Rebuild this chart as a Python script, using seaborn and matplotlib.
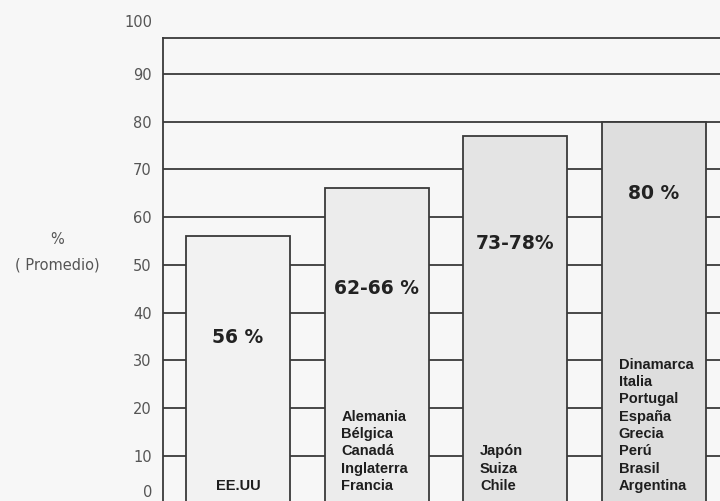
import matplotlib
matplotlib.use("Agg")
import matplotlib.pyplot as plt
import seaborn as sns
import pandas as pd

# Data
groups = ["EE.UU", "G2", "G3", "G4"]
values = [56, 66, 77, 80]
pct_labels = ["56 %", "62-66 %", "73-78%", "80 %"]
countries = [
    ["EE.UU"],
    ["Alemania", "Bélgica", "Canadá", "Inglaterra", "Francia"],
    ["Japón", "Suiza", "Chile"],
    ["Dinamarca", "Italia", "Portugal", "España", "Grecia", "Perú", "Brasil", "Argentina"],
]
pct_label_y = [34.7, 45.1, 54.5, 65.0]
y_ticks = [10, 20, 30, 40, 50, 60, 70, 80, 90]

bar_colors = ["#f2f2f2", "#ececec", "#e4e4e4", "#dedede"]
line_color = "#3a3a3a"
bg = "#f7f7f7"

df = pd.DataFrame({"grupo": groups, "valor": values})

sns.set_style("white")
plt.rcParams["font.family"] = ["DejaVu Sans"]

fig = plt.figure(figsize=(7.2, 5.01), dpi=100, facecolor=bg)
ax = fig.add_axes([163 / 720, -0.0056, (720 - 163) / 720, 0.929])
ax.set_facecolor(bg)

sns.barplot(data=df, x="grupo", y="valor", hue="grupo", palette=bar_colors,
            legend=False, width=0.75, edgecolor=line_color, linewidth=1.3,
            saturation=1, ax=ax, zorder=3)

ax.set_xlim(-0.54, 3.475)
ax.set_ylim(0, 97.4)
ax.set_yticks(y_ticks)
ax.set_xticks([])
ax.set_xlabel("")
ax.yaxis.grid(True, color=line_color, linewidth=1.3, zorder=0)
ax.set_axisbelow(True)
ax.tick_params(axis="y", length=0, pad=8, labelsize=10.5, labelcolor="#555555")

for side in ["right", "bottom"]:
    ax.spines[side].set_visible(False)
for side in ["left", "top"]:
    ax.spines[side].set_color(line_color)
    ax.spines[side].set_linewidth(1.3)

# tick labels 0 and 100 sit outside the drawn range
ax.text(-0.0198, 100.8, "100", transform=ax.get_yaxis_transform(), ha="right",
        va="center", fontsize=10.5, color="#555555", clip_on=False)
ax.text(-0.0198, 0.75, "0", transform=ax.get_yaxis_transform(), ha="right",
        va="bottom", fontsize=10.5, color="#555555", clip_on=False)

ax.set_ylabel("%\n( Promedio)", rotation=0, fontsize=10.5, color="#555555",
              linespacing=1.9, va="center", ha="center")
ax.yaxis.set_label_coords(-0.19, 0.54)

# labels inside the bars
for i, (lab, ly) in enumerate(zip(pct_labels, pct_label_y)):
    ax.text(i, ly, lab, ha="center", va="center", fontsize=13.5,
            fontweight="bold", color="#222222", zorder=5)

for i, names in enumerate(countries):
    if len(names) == 1:
        ax.text(i, 2.3, names[0], ha="center", va="bottom", fontsize=10.5,
                fontweight="bold", family="Liberation Sans", color="#1e1e1e", zorder=5)
    else:
        ax.text(i - 0.255, 2.3, "\n".join(names), ha="left", va="bottom",
                fontsize=10.5, fontweight="bold", family="Liberation Sans",
                color="#1e1e1e", linespacing=1.3, zorder=5)

fig.savefig("out.png", dpi=100, facecolor=bg)
